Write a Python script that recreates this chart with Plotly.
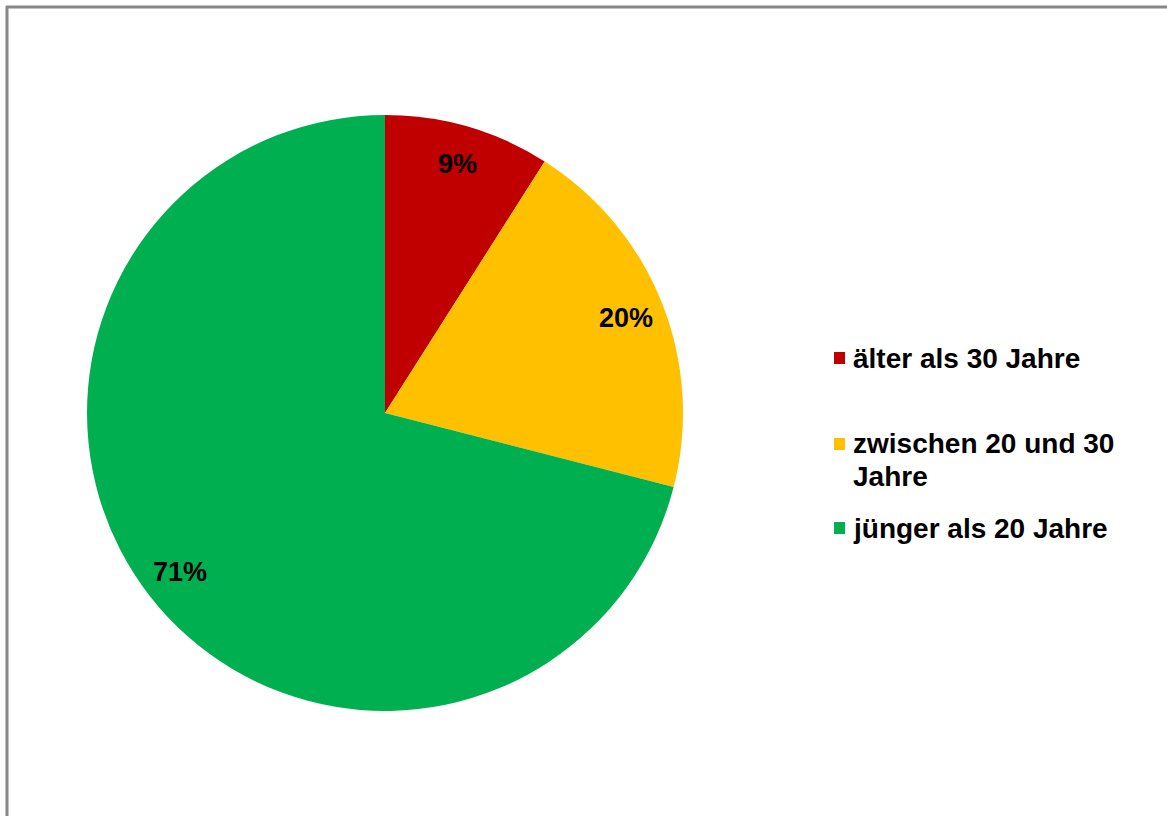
import math
import plotly.graph_objects as go

# Age structure shares
categories = ["älter als 30 Jahre", "zwischen 20 und 30 Jahre", "jünger als 20 Jahre"]
legend_lines = [["älter als 30 Jahre"], ["zwischen 20 und 30", "Jahre"], ["jünger als 20 Jahre"]]
shares = [9, 20, 71]
colors = ["#C00000", "#FFC000", "#00B050"]

W, H = 1167, 816
FONT = "Liberation Sans, Arial, sans-serif"

# Pie placement in pixels
PIE_LEFT, PIE_RIGHT, PIE_TOP, PIE_BOTTOM = 86, 684, 115, 711


def px_x(x):
    return x / W


def px_y(y):
    return 1 - y / H


fig = go.Figure()
fig.add_trace(go.Pie(
    labels=categories,
    values=shares,
    marker=dict(colors=colors, line=dict(width=0)),
    sort=False,
    direction="clockwise",
    rotation=0,
    textinfo="none",
    domain=dict(x=[px_x(PIE_LEFT), px_x(PIE_RIGHT)], y=[px_y(PIE_BOTTOM), px_y(PIE_TOP)]),
    showlegend=False,
    hoverinfo="label+percent",
))

annotations = []

# Percentage labels placed along each slice's bisector, near the rim
cx = (PIE_LEFT + PIE_RIGHT) / 2
cy = (PIE_TOP + PIE_BOTTOM) / 2
radius = min(PIE_RIGHT - PIE_LEFT, PIE_BOTTOM - PIE_TOP) / 2
total = sum(shares)
cumulative = 0
for value in shares:
    mid = (cumulative + value / 2) / total * 2 * math.pi
    cumulative += value
    lx = cx + 0.87 * radius * math.sin(mid)
    ly = cy - 0.87 * radius * math.cos(mid)
    annotations.append(dict(xref="paper", yref="paper", x=px_x(lx), y=px_y(ly),
                            xanchor="center", yanchor="middle", showarrow=False,
                            text=f"{round(value / total * 100)}%",
                            font=dict(family=FONT, size=27, color="black", weight="bold")))

# Frame lines along the top and left edge
shapes = [
    dict(type="line", xref="paper", yref="paper",
         x0=px_x(6), x1=1, y0=px_y(7), y1=px_y(7),
         line=dict(color="#878787", width=3)),
    dict(type="line", xref="paper", yref="paper",
         x0=px_x(7), x1=px_x(7), y0=px_y(6), y1=0,
         line=dict(color="#878787", width=3)),
]

# Legend: colour squares with labels to the right
legend_rows = [358, 444, 528]
LINE_STEP = 32
for lines, color, y in zip(legend_lines, colors, legend_rows):
    shapes.append(dict(type="rect", xref="paper", yref="paper",
                       x0=px_x(834), x1=px_x(845), y0=px_y(y + 6), y1=px_y(y - 6),
                       fillcolor=color, line=dict(width=0)))
    for i, line in enumerate(lines):
        annotations.append(dict(xref="paper", yref="paper", x=px_x(851),
                                y=px_y(y + i * LINE_STEP),
                                xanchor="left", yanchor="middle", align="left",
                                text=line, showarrow=False,
                                font=dict(family=FONT, size=28, color="black", weight="bold")))

fig.update_layout(
    width=W, height=H,
    margin=dict(l=0, r=0, t=0, b=0),
    paper_bgcolor="white",
    plot_bgcolor="white",
    shapes=shapes,
    annotations=annotations,
)

fig.write_html("out.html")
